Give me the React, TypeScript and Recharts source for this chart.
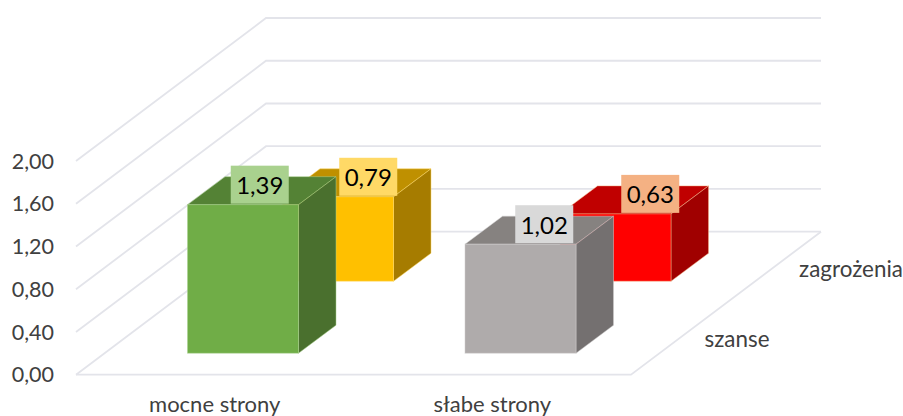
import React from 'react';
import { Bar, CartesianGrid, ComposedChart, Customized, LabelList, XAxis, YAxis } from 'recharts';

const categories = ['mocne strony', 'słabe strony'];
const szanse = [1.39, 1.02];
const zagrozenia = [0.79, 0.63];
const depthNames = ['szanse', 'zagrożenia'];
const valueTicks = [0, 0.4, 0.8, 1.2, 1.6, 2];

const data = categories.map((name, i) => ({ name, szanse: szanse[i], zagrozenia: zagrozenia[i] }));

const FONT = 'Lato, "Open Sans", sans-serif';
const GRID = '#e3e4ea';

// depth of the whole floor, in pixels
const DEPTH_X = 190;
const DEPTH_Y = 143;

const frontRow = {
  dx: 28.5,
  dy: 21.5,
  front: ['#70ad47', '#afabab'],
  top: ['#548235', '#868280'],
  side: ['#4a702e', '#747070'],
  edge: ['#a9d18e', '#d0cece'],
  labelBg: ['#a9d18e', '#d9d9d9'],
  labelShift: [-2, 5],
};
const backRow = {
  dx: 123.5,
  dy: 93.5,
  front: ['#ffc000', '#ff0000'],
  top: ['#bf9000', '#c00000'],
  side: ['#a67c00', '#a00000'],
  edge: ['#ffd966', '#f4b183'],
  labelBg: ['#ffd966', '#f4b183'],
  labelShift: [11.5, 16],
};
const BAR_DX = 37.5;
const BAR_DY = 28;

const formatValue = (v: number) => v.toFixed(2).replace('.', ',');

const prism = (row: typeof frontRow) => (props: any) => {
  const { x, y, width, height, index } = props;
  const left = x + row.dx;
  const right = left + width;
  const top = y - row.dy;
  const bottom = top + height;
  const edge = { stroke: row.edge[index], strokeOpacity: 0.5, strokeWidth: 1 };
  return (
    <g>
      <polygon
        points={`${left},${top} ${left + BAR_DX},${top - BAR_DY} ${right + BAR_DX},${top - BAR_DY} ${right},${top}`}
        fill={row.top[index]}
        {...edge}
      />
      <polygon
        points={`${right},${top} ${right + BAR_DX},${top - BAR_DY} ${right + BAR_DX},${bottom - BAR_DY} ${right},${bottom}`}
        fill={row.side[index]}
        {...edge}
      />
      <rect x={left} y={top} width={width} height={height} fill={row.front[index]} {...edge} />
    </g>
  );
};

const valueLabel = (row: typeof frontRow) => (props: any) => {
  const { x, y, width, value, index } = props;
  const cx = x + width / 2 + row.dx + BAR_DX / 2 + row.labelShift[index];
  const cy = y - row.dy - 20;
  return (
    <g>
      <rect x={cx - 29} y={cy - 19} width={58} height={38} fill={row.labelBg[index]} />
      <text x={cx} y={cy} textAnchor="middle" dominantBaseline="central" fontFamily={FONT} fontSize={24} fill="#000">
        {formatValue(value)}
      </text>
    </g>
  );
};

const wallLine = (props: any) => {
  const { x1, y1, x2, index } = props;
  const backY = y1 - DEPTH_Y;
  const isFloor = y1 > 370;
  return (
    <g key={index}>
      <path
        d={`M${x1},${y1} L${x1 + DEPTH_X},${backY} L${x2 + DEPTH_X},${backY}`}
        fill="none"
        stroke={GRID}
        strokeWidth={1.8}
      />
      {isFloor && (
        <path d={`M${x1},${y1} L${x2},${y1} L${x2 + DEPTH_X},${backY}`} fill="none" stroke={GRID} strokeWidth={1.8} />
      )}
    </g>
  );
};

const DepthLabels = () => (
  <g fontFamily={FONT} fontSize={22.4} fill="#404040" textAnchor="middle">
    <text x={737} y={347}>{depthNames[0]}</text>
    <text x={851} y={277}>{depthNames[1]}</text>
  </g>
);

export default function App() {
  return (
    <div style={{ position: 'absolute', left: 0, top: 0, width: 903, height: 416 }}>
      <ComposedChart
        width={903}
        height={416}
        data={data}
        margin={{ top: 161, right: 272, bottom: 0, left: 0 }}
      >
        <CartesianGrid vertical={false} horizontal={wallLine} />
        <XAxis
          xAxisId="front"
          dataKey="name"
          height={41.3}
          axisLine={false}
          tickLine={false}
          tickSize={0}
          tickMargin={-8}
          tick={{ fontFamily: FONT, fontSize: 22, fill: '#404040' }}
        />
        <XAxis xAxisId="back" dataKey="name" hide />
        <YAxis
          width={76}
          domain={[0, 2]}
          ticks={valueTicks}
          axisLine={false}
          tickLine={false}
          tickSize={0}
          tickMargin={22}
          tickFormatter={formatValue}
          tick={{ fontFamily: FONT, fontSize: 21.5, fill: '#404040' }}
        />
        <Bar
          xAxisId="back"
          dataKey="zagrozenia"
          barSize={111}
          shape={prism(backRow)}
          isAnimationActive={false}
        >
          <LabelList dataKey="zagrozenia" content={valueLabel(backRow)} />
        </Bar>
        <Bar
          xAxisId="front"
          dataKey="szanse"
          barSize={111}
          shape={prism(frontRow)}
          isAnimationActive={false}
        >
          <LabelList dataKey="szanse" content={valueLabel(frontRow)} />
        </Bar>
        <Customized component={DepthLabels} />
      </ComposedChart>
    </div>
  );
}
